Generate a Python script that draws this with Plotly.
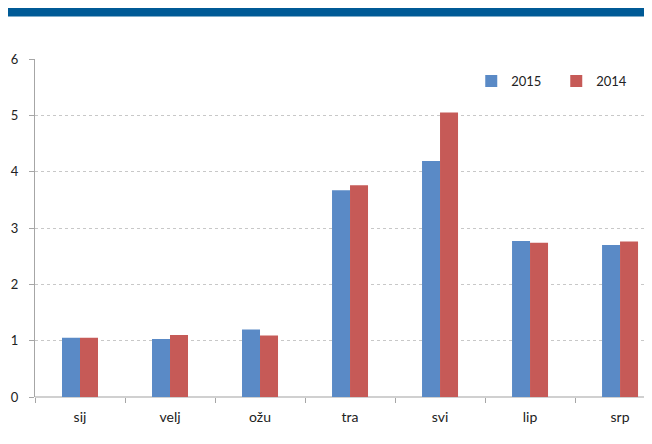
import plotly.graph_objects as go

# months (Croatian abbreviations)
months = ['sij', 'velj', 'ožu', 'tra', 'svi', 'lip', 'srp']
y2015 = [1.05, 1.03, 1.20, 3.67, 4.19, 2.77, 2.70]
y2014 = [1.05, 1.10, 1.09, 3.76, 5.05, 2.74, 2.76]
y_ticks = [0, 1, 2, 3, 4, 5, 6]

blue = '#5A8AC6'
red = '#C65A57'

fig = go.Figure()
fig.add_trace(go.Bar(x=months, y=y2015, name='2015', marker_color=blue,
                     marker_line_width=0))
fig.add_trace(go.Bar(x=months, y=y2014, name='2014', marker_color=red,
                     marker_line_width=0))

# page body adds an 8px offset, so the margins are trimmed to compensate
fig.update_layout(
    width=652, height=444,
    margin=dict(l=27, r=0, t=51, b=55),
    paper_bgcolor='white', plot_bgcolor='white',
    font=dict(family='Lato, Open Sans, sans-serif', size=13, color='#222'),
    barmode='group', bargap=0.6, bargroupgap=0,
    legend=dict(orientation='h', x=0.698, y=0.935, xanchor='left', yanchor='middle',
                bgcolor='rgba(0,0,0,0)', entrywidth=40, font=dict(size=13)),
    showlegend=True,
)

fig.update_xaxes(
    range=[-0.5, 6.444], tickson='boundaries', ticks='outside', ticklen=5,
    tickcolor='#a6a6a6', showline=False, showgrid=False, ticklabelstandoff=10,
    tickfont=dict(size=14), automargin=False,
)
fig.update_yaxes(
    range=[0, 6], tickvals=y_ticks, ticks='outside', ticklen=5, tickcolor='#a6a6a6',
    showline=True, linecolor='#a6a6a6', linewidth=1,
    showgrid=True, gridcolor='#c8c8c8', griddash='dot', gridwidth=1,
    zeroline=True, zerolinecolor='#d0d0d0', zerolinewidth=2,
    ticklabelstandoff=8, automargin=False,
)

# dark blue header band
fig.add_shape(type='rect', xref='paper', yref='paper',
              x0=-0.0432, x1=1.0, y0=1.1257, y1=1.151,
              fillcolor='#005A96', line_width=0, layer='above')

fig.write_html("out.html")
